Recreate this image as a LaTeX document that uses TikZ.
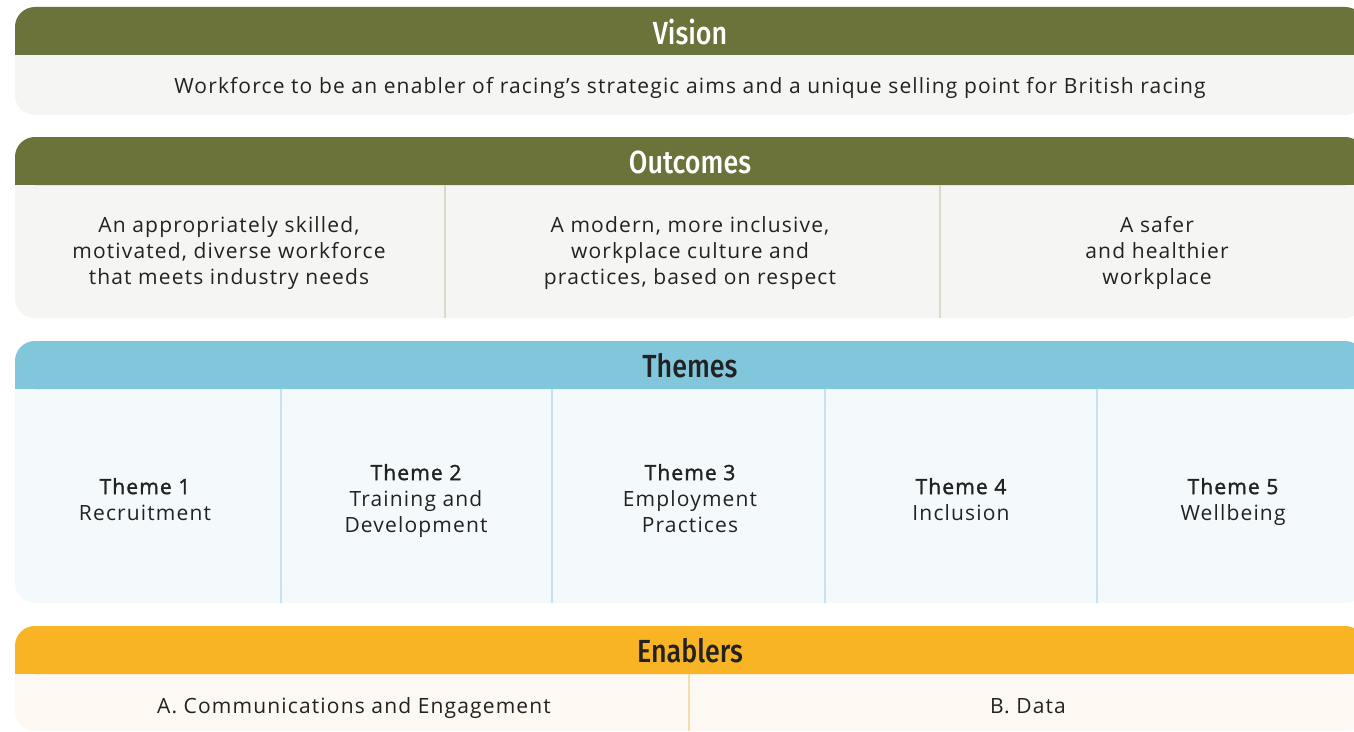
\documentclass[tikz,border=0pt]{standalone}
\usepackage{fontspec}
\setmainfont{Open Sans}[LetterSpace=5.5]
\newfontfamily\semifont{Open Sans}[LetterSpace=5.5, FakeBold=1.6]
\newfontfamily\hdrfont{Fira Sans Medium}[FakeStretch=0.84]
\definecolor{olive}{HTML}{6B733A}
\definecolor{olivebody}{HTML}{F5F5F3}
\definecolor{olivediv}{HTML}{D9DACB}
\definecolor{sky}{HTML}{82C6DC}
\definecolor{skybody}{HTML}{F4FAFC}
\definecolor{skydiv}{HTML}{C6E2EE}
\definecolor{amber}{HTML}{F8B425}
\definecolor{amberbody}{HTML}{FDF8F1}
\definecolor{amberdiv}{HTML}{F5DDB2}
\definecolor{ink}{HTML}{222222}
\tikzset{
  hdrtext/.style={font=\hdrfont\fontsize{32bp}{32bp}\selectfont, anchor=center, inner sep=0pt},
  bodytext/.style={font=\fontsize{21bp}{26bp}\selectfont, text=ink, align=center, anchor=center,
    inner sep=0pt, execute at begin node=\strut, execute at end node=\strut},
}
% one panel: header band of colour #4 from #1 to #2, body of colour #5 down to #3
\newcommand\panelbox[5]{%
  \fill[#5, rounded corners=20] (15,#1) rectangle (1365,#3);
  \fill[#4, rounded corners=20] (15,#1) rectangle (1365,#2);
  \fill[#4] (15,#1+28) rectangle (1365,#2);
}
\newcommand\themelabel[1]{{\semifont #1}}
\begin{document}
\begin{tikzpicture}[x=1bp,y=-1bp]
\useasboundingbox (0,0) rectangle (1354,731);
\clip (0,0) rectangle (1354,731);

% Vision
\panelbox{7}{55}{115}{olive}{olivebody}
\node[hdrtext, text=white] (visionhdr) at (690,32) {Vision};
\node[bodytext] (vision) at (690,88) {Workforce to be an enabler of racing’s strategic aims and a unique selling point for British racing};

% Outcomes
\panelbox{137}{185}{318}{olive}{olivebody}
\draw[olivediv, line width=1.2] (445,185) -- (445,318);
\draw[olivediv, line width=1.2] (940,185) -- (940,318);
\node[hdrtext, text=white] (outhdr) at (690,162) {Outcomes};
\node[bodytext] (out1) at (229,254) {An appropriately skilled,\\motivated, diverse workforce\\that meets industry needs};
\node[bodytext] (out2) at (690,254) {A modern, more inclusive,\\workplace culture and\\practices, based on respect};
\node[bodytext] (out3) at (1157,254) {A safer\\and healthier\\workplace};

% Themes
\panelbox{341}{389}{603}{sky}{skybody}
\foreach \x in {281,552,825,1097} \draw[skydiv, line width=1.2] (\x,389) -- (\x,603);
\node[hdrtext, text=ink] (themehdr) at (690,366) {Themes};
\node[bodytext] (t1) at (145,503) {\themelabel{Theme 1}\\Recruitment};
\node[bodytext] (t2) at (416,502) {\themelabel{Theme 2}\\Training and\\Development};
\node[bodytext] (t3) at (690,502) {\themelabel{Theme 3}\\Employment\\Practices};
\node[bodytext] (t4) at (961,503) {\themelabel{Theme 4}\\Inclusion};
\node[bodytext] (t5) at (1233,503) {\themelabel{Theme 5}\\Wellbeing};

% Enablers
\panelbox{626}{674}{731}{amber}{amberbody}
\draw[amberdiv, line width=1.2] (689,674) -- (689,731);
\node[hdrtext, text=ink] (enhdr) at (690,651) {Enablers};
\node[bodytext] (en1) at (354,708) {A. Communications and Engagement};
\node[bodytext] (en2) at (1028,708) {B. Data};
\end{tikzpicture}
\end{document}
